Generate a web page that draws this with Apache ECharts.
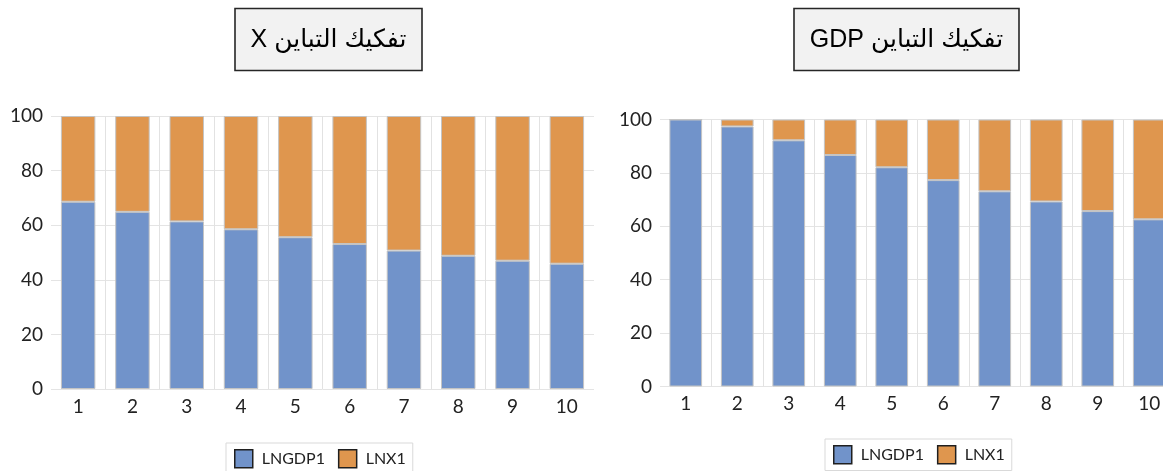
<!DOCTYPE html>
<html>
<head>
<meta charset="utf-8">
<script src="https://cdn.jsdelivr.net/npm/echarts@6/dist/echarts.min.js"></script>
<style>
  html, body { margin: 0; padding: 0; background: #ffffff; overflow: hidden; width: 1163px; height: 471px; }
  /* the drawing surface runs a little past the right edge, so the last GDP bar is cut off */
  #main { width: 1180px; height: 471px; }
</style>
</head>
<body>
<div id="main"></div>
<script>
// Forecast horizons (periods)
const periods = ['1', '2', '3', '4', '5', '6', '7', '8', '9', '10'];

// Variance decomposition of X (percent)
const xShareGdp = [68.6, 64.9, 61.4, 58.5, 55.6, 53.1, 50.7, 48.8, 47.0, 45.9];
const xShareX   = [31.4, 35.1, 38.6, 41.5, 44.4, 46.9, 49.3, 51.2, 53.0, 54.1];

// Variance decomposition of GDP (percent)
const gdpShareGdp = [100, 97.4, 92.2, 86.7, 82.1, 77.3, 73.1, 69.3, 65.7, 62.6];
const gdpShareX   = [0, 2.6, 7.8, 13.3, 17.9, 22.7, 26.9, 30.7, 34.3, 37.4];

// Value axis ticks
const yTicks = { min: 0, max: 100, interval: 20 };

const seriesNames = ['LNGDP1', 'LNX1'];
const titles = ['\u202Bتفكيك التباين X\u202C', '\u202Bتفكيك التباين GDP\u202C'];

const BLUE = '#7193ca';
const ORANGE = '#df964e';
const LABEL_FONT = 'Lato, "Open Sans", sans-serif';
const TITLE_FONT = '"Liberation Sans", "DejaVu Sans", sans-serif';

function xAxisFor(gridIndex) {
  return {
    type: 'category',
    gridIndex: gridIndex,
    data: periods,
    axisLine: { show: false },
    axisTick: { show: false },
    axisLabel: { color: '#222', fontFamily: LABEL_FONT, fontSize: 19, margin: 8 },
    splitLine: {
      show: true,
      showMinLine: false,
      showMaxLine: false,
      lineStyle: { color: '#e2e2e2', width: 1 }
    }
  };
}

function yAxisFor(gridIndex) {
  return {
    type: 'value',
    gridIndex: gridIndex,
    min: yTicks.min,
    max: yTicks.max,
    interval: yTicks.interval,
    axisLine: { show: false },
    axisTick: { show: false },
    axisLabel: { color: '#222', fontFamily: LABEL_FONT, fontSize: 19, margin: 8 },
    splitLine: { lineStyle: { color: '#e4e4e4', width: 1 } }
  };
}

function barSeries(name, data, gridIndex, color, stack) {
  return {
    name: name,
    type: 'bar',
    stack: stack,
    xAxisIndex: gridIndex,
    yAxisIndex: gridIndex,
    data: data,
    barCategoryGap: '36.5%',
    itemStyle: { color: color, borderColor: '#c4c4c4', borderWidth: 1 }
  };
}

function legendAt(left, top) {
  return {
    left: left,
    top: top,
    orient: 'horizontal',
    data: seriesNames,
    icon: 'rect',
    itemWidth: 18,
    itemHeight: 18,
    itemGap: 13,
    padding: [6, 7, 6, 8],
    borderColor: '#d9d9d9',
    borderWidth: 1,
    itemStyle: { borderColor: '#1f1f1f', borderWidth: 1.5 },
    textStyle: { color: '#222', fontFamily: LABEL_FONT, fontSize: 16, padding: [0, 0, 0, 4] },
    selectedMode: false
  };
}

function titleBox(x, y, w, h, text) {
  return {
    type: 'group',
    children: [
      {
        type: 'rect',
        shape: { x: x, y: y, width: w, height: h },
        style: { fill: '#f2f2f2', stroke: '#262626', lineWidth: 1.6 }
      },
      {
        type: 'text',
        style: {
          text: text,
          x: x + w / 2,
          y: y + h / 2 + 1,
          align: 'center',
          verticalAlign: 'middle',
          textAlign: 'center',
          textVerticalAlign: 'middle',
          font: '25px ' + TITLE_FONT,
          fill: '#000'
        }
      }
    ]
  };
}

const chart = echarts.init(document.getElementById('main'), null, { renderer: 'canvas' });

chart.setOption({
  animation: false,
  backgroundColor: '#ffffff',
  grid: [
    { left: 51, top: 116, width: 543, height: 273 },
    { left: 660, top: 119.5, width: 515, height: 267 }
  ],
  xAxis: [xAxisFor(0), xAxisFor(1)],
  yAxis: [yAxisFor(0), yAxisFor(1)],
  legend: [legendAt(226, 443), legendAt(825, 439)],
  graphic: [
    titleBox(235, 8.5, 187, 62, titles[0]),
    titleBox(794, 8.5, 225, 62, titles[1])
  ],
  series: [
    barSeries(seriesNames[0], xShareGdp, 0, BLUE, 'left'),
    barSeries(seriesNames[1], xShareX, 0, ORANGE, 'left'),
    barSeries(seriesNames[0], gdpShareGdp, 1, BLUE, 'right'),
    barSeries(seriesNames[1], gdpShareX, 1, ORANGE, 'right')
  ]
});
</script>
</body>
</html>
